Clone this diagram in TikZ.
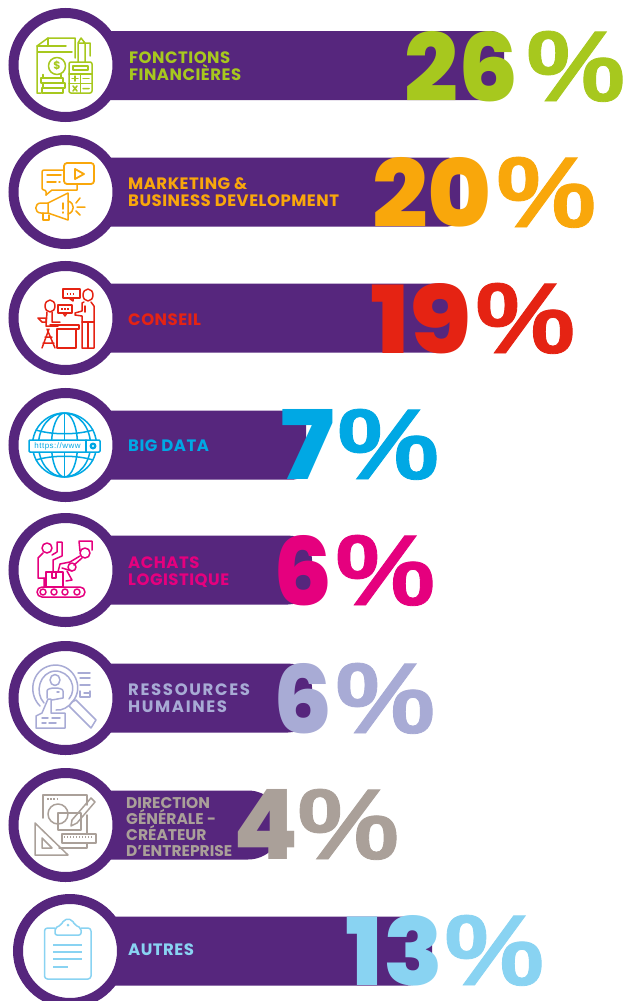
\documentclass[tikz,border=0pt]{standalone}
\usepackage{fontspec}
\usepackage{graphicx}
\setmainfont{Poppins}[UprightFont=* Bold]
\newfontfamily\numfont{Poppins}[UprightFont=* ExtraBold]
\newfontfamily\pctfont{Liberation Sans}[UprightFont=* Bold,FakeBold=0.8]
\newfontfamily\urlfont{Liberation Sans}
\definecolor{barc}{HTML}{56267D}
\definecolor{cgreen}{HTML}{A7C81E}
\definecolor{corange}{HTML}{F9A70B}
\definecolor{cred}{HTML}{E52313}
\definecolor{cblue}{HTML}{00A8E4}
\definecolor{cpink}{HTML}{E5007E}
\definecolor{clav}{HTML}{A8ABD5}
\definecolor{cgrey}{HTML}{AAA099}
\definecolor{csky}{HTML}{89D3F2}
\tikzset{
  ringnode/.style={circle,draw=barc,line width=10pt,fill=white,minimum size=104pt,inner sep=0pt,outer sep=0pt},
  labelnode/.style={anchor=west,align=left,inner sep=0pt,font=\fontsize{16.5}{17}\selectfont\addfontfeatures{LetterSpace=3}},
  fignode/.style={anchor=south west,inner sep=0pt},
  iconline/.style={line width=1.5pt,line join=round,line cap=round},
  thick stroke/.style={line width=2.6pt,line cap=butt},
}
\newcommand{\barrow}[4]{% name, y, xend, radius
  \fill[barc,rounded corners=#4pt] (66,#2-34.5) rectangle (#3,#2+34.5);
}
\newcommand{\fig}[7]{% digits colour x1 w1 x2 w2 ybase
  \node[fignode,text=#2] (d#1) at (#3,#7) {\resizebox{#4pt}{70pt}{\numfont #1}};
  \node[fignode,text=#2] (p#1) at (#5,#7) {\resizebox{#6pt}{70pt}{\pctfont\%}};
}
\begin{document}
\begin{tikzpicture}[x=1pt,y=-1pt]
\useasboundingbox (0,0) rectangle (625,1001);
\fill[white] (0,0) rectangle (625,1001);
% bars
\barrow{b1}{65.5}{504}{12}
\barrow{b2}{192}{460}{12}
\barrow{b3}{318}{456}{14}
\barrow{b4}{445}{306}{12}
\barrow{b5}{570}{312}{24}
\barrow{b6}{698}{312}{24}
\barrow{b7}{825}{282}{34}
\barrow{b8}{951}{432}{24}
% rings
\node[ringnode] (r1) at (65.5,65) {};
\node[ringnode] (r2) at (65.5,192) {};
\node[ringnode] (r3) at (65.5,318) {};
\node[ringnode] (r4) at (65.5,445) {};
\node[ringnode] (r5) at (65.5,570) {};
\node[ringnode] (r6) at (65.5,698) {};
\node[ringnode] (r7) at (65.5,825) {};
\node[ringnode] (r8) at (70,951) {};
% labels
\node[labelnode,text=cgreen] (l1) at (129,66) {FONCTIONS\\FINANCIÈRES};
\node[labelnode,text=corange] (l2) at (128,192) {MARKETING \&\\BUSINESS DEVELOPMENT};
\node[labelnode,text=cred] (l3) at (128,320) {CONSEIL};
\node[labelnode,text=cblue] (l4) at (128,446) {BIG DATA};
\node[labelnode,text=cpink] (l5) at (128,572) {ACHATS\\LOGISTIQUE};
\node[labelnode,text=clav,font=\fontsize{16.5}{17}\selectfont\addfontfeatures{LetterSpace=10}] (l6) at (128,698) {RESSOURCES\\HUMAINES};
\node[labelnode,text=cgrey,font=\fontsize{15.5}{16}\selectfont\addfontfeatures{LetterSpace=0}] (l7) at (126,827) {DIRECTION\\GÉNÉRALE -\\CRÉATEUR\\D’ENTREPRISE};
\node[labelnode,text=csky] (l8) at (128,950) {AUTRES};
% figures
\fig{26}{cgreen}{404}{114}{526}{99}{102}
\fig{20}{corange}{372}{120}{496}{100}{228}
\fig{19}{cred}{370}{102}{475}{100}{354}
\fig{7}{cblue}{280}{54}{337}{102}{480}
\node[fignode,text=cpink] (d6a) at (273,606) {\resizebox{59pt}{70pt}{\numfont 6}};
\node[fignode,text=cpink] (p6a) at (335,606) {\resizebox{100pt}{70pt}{\pctfont\%}};
\node[fignode,text=clav] (d6b) at (273,734) {\resizebox{59pt}{70pt}{\numfont 6}};
\node[fignode,text=clav] (p6b) at (335,734) {\resizebox{100pt}{70pt}{\pctfont\%}};
\fig{4}{cgrey}{233}{65}{297}{102}{860}
\fig{13}{csky}{345}{98}{444}{100}{986}
% icon 1
\begin{scope}[iconline,draw=cgreen]
\draw (75,58) -- (75,38) -- (48,38) -- (37,46) -- (37,93) -- (41,93);
\draw (48,38) -- (48,46) -- (37,46);
\draw (45,46) -- (66,46) (38,52) -- (72,52);
\draw (57,66) circle (8.5);
\node[text=cgreen,inner sep=0pt,font=\fontsize{11}{11}\selectfont] (dollar) at (57,66) {\$};
\draw (41,78) rectangle (63,83) (43,74.5) -- (43,78) (61,74.5)--(61,78) (43,83) rectangle (65,88) (42,88) rectangle (63,93);
\draw[rounded corners=2pt] (69,62) rectangle (92,93);
\draw (73,66) rectangle (88,70);
\draw (69,74) -- (92,74) (69,83.5) -- (92,83.5) (80.5,74) -- (80.5,93);
\draw (72,78.5) -- (78,78.5) (75,76) -- (75,81) (83,78.5) -- (89,78.5);
\draw (73,86) -- (77,91) (77,86) -- (73,91) (83,88.5) -- (89,88.5);
\draw (78,62) -- (78,43) -- (81,38) -- (85,43) -- (85,62) (78,43) -- (85,43) (85,43) -- (90,43) -- (90,56);
\end{scope}
% icon 2
\begin{scope}[iconline,draw=corange]
\draw[rounded corners=2pt] (64,170) -- (42,170) -- (42,190) -- (46,190) -- (46,195);
\draw (46,195) -- (52,190) -- (64,190) (77,184) -- (77,190) -- (64,190);
\draw (47,175) -- (61,175) (47,182) -- (56,182) (59,182) -- (60,182);
\draw[rounded corners=3pt,line width=1.8pt] (64,163) rectangle (94,184);
\draw[line width=1.8pt] (75,169) -- (84,174) -- (75,179) -- cycle;
\draw (68,193) -- (48,203) -- (48,213) -- (68,220) -- cycle;
\draw (48,203) -- (41,203) .. controls (34,203) and (34,213) .. (41,213) -- (48,213);
\draw (43,213) -- (43,220) -- (49,220) -- (49,215);
\draw (68,201) .. controls (75,203) and (75,212) .. (68,214);
\draw (76,203) -- (80,198) (77,207) -- (85,207) (76,211) -- (80,215);
\draw (63,203) -- (63,209) (63,212) -- (63,213);
\end{scope}
% icon 3
\begin{scope}[iconline,draw=cred]
\draw (63,289) rectangle (80,298);
\draw (69,298) -- (73,301) -- (73,298);
\draw[line width=1.8pt,line cap=butt,dash pattern=on 1.8pt off 1.2pt] (66.5,294) -- (75,294);
\draw (58,305) rectangle (72,313);
\draw (63,313) -- (65,316) -- (67,313);
\draw[line width=1.8pt,line cap=butt,dash pattern=on 1.8pt off 1.2pt] (61,309) -- (69,309);
\draw (88,295) ellipse (5 and 6);
\draw (84,302) -- (82,303) -- (82,311) -- (75,313) -- (75,315) -- (82,316) -- (82,348) -- (94,348) -- (94,306) -- (91,302);
\draw (88,322) -- (88,348) (82,322) -- (94,322) (85,306) -- (85,312);
\draw (50,306) ellipse (5 and 6);
\draw (47,312) -- (46,326) -- (58,326) (52,312) -- (52,322) -- (60,322);
\draw (38,318) -- (46,318) -- (46,322) -- (42,322) -- (38,318);
\draw (57,329) rectangle (76,348) (50,325) -- (79,325) -- (79,329) -- (57,329);
\draw (49,329) -- (42,348) (47,329) -- (55,348) (45,337) -- (52,337) (43,343) -- (54,343);
\end{scope}
% icon 4
\begin{scope}[iconline,draw=cblue]
\draw (64.5,445) circle (32);
\draw (64.5,445) ellipse (13 and 32) (64.5,445) ellipse (26 and 32);
\draw (64.5,413) -- (64.5,477);
\draw (36,430) .. controls (52,435) and (77,435) .. (93,430);
\draw (36,460) .. controls (52,455) and (77,455) .. (93,460);
\fill[white] (28,440) rectangle (101,452);
\draw[rounded corners=1pt,fill=white,line width=1.5pt] (29,440) rectangle (100,452);
\draw[line width=1.5pt] (86,440) -- (86,452);
\node[text=cblue,inner sep=0pt,font=\urlfont\fontsize{8}{8}\selectfont\addfontfeatures{LetterSpace=6}] (www) at (57.5,446) {https://www};
\fill[cblue] (93,446) circle (3.5);
\fill[white] (93,446) circle (1.2);
\end{scope}
% icon 5
\begin{scope}[iconline,draw=cpink]
\draw[rounded corners=5pt] (37,587) rectangle (85,597);
\draw (43,592) circle (3) (54,592) circle (3) (65,592) circle (3) (77,592) circle (3);
\draw (47,548) circle (5);
\draw (43,553) -- (38,558) -- (38,578) -- (45,578);
\draw (44,578) -- (44,587) (52,555) -- (57,552) -- (57,542) -- (62,542) -- (62,556) -- (53,560) -- (53,572);
\draw (46,572) rectangle (63,587);
\draw (52,572) -- (52,578) -- (56,578) -- (56,572);
\draw (85,553) circle (5) (72,567) circle (4);
\draw (79,541) -- (92,541) -- (92,550) (79,541) -- (80,551);
\draw (80,556) -- (70,562) (82,558) -- (74,565);
\draw (70,562) -- (60,564) -- (58,572) (72,571) -- (62,568);
\draw (67,571) -- (72,580) -- (66,581);
\end{scope}
% icon 6
\begin{scope}[iconline,draw=clav]
\draw (40,706) .. controls (26,692) and (33,666) .. (55,665) .. controls (75,665) and (84,688) .. (73,701) .. controls (69,707) and (62,711) .. (56,710);
\draw (44,703) .. controls (34,692) and (40,672) .. (55,671) .. controls (70,671) and (78,688) .. (69,699);
\draw (55,680) ellipse (5 and 5.5);
\draw (47,698) -- (47,691) .. controls (47,687) and (63,687) .. (63,691) -- (63,698) -- (52,700);
\draw (57,692) -- (59,692);
\draw (78,673) -- (90,673) (80,678) -- (90,678) (80,685) -- (90,685) (84,693) -- (90,693) (80,697) -- (90,697) -- (90,691) (80,697) -- (80,691);
\draw (72,702) -- (76,700) -- (96,720) -- (91,728) -- (69,706) -- cycle;
\draw (36,728) -- (36,716) -- (42,713) -- (48,699) -- (51,699) -- (51,713) -- (65,713) -- (65,728) -- cycle;
\draw (42,718) -- (48,718) (52,718) -- (60,718) (42,723) -- (46,723) (49,723) -- (56,723);
\end{scope}
% icon 7
\begin{scope}[iconline,draw=cgrey]
\draw (43,818) -- (43,795) -- (87,795) -- (87,805);
\draw[line width=1.8pt,line cap=butt,dash pattern=on 2pt off 1.2pt] (47,799) -- (58,799);
\draw (58,814) circle (10);
\draw (58,813) rectangle (81,830);
\draw (87,815) -- (87,834) (87,843) -- (87,848) -- (59,848);
\draw (72,820) -- (91,798) -- (95,802) -- (77,823) -- (71,826) -- cycle;
\draw (35,823) -- (35,855) -- (68,855) -- cycle;
\draw (42,838) -- (42,848) -- (52,848) -- cycle;
\draw (62,834) rectangle (96,843);
\draw[dash pattern=on 1pt off 2pt,line cap=butt] (64,837) -- (94,837);
\end{scope}
% icon 8
\begin{scope}[iconline,draw=csky]
\draw[rounded corners=3pt,line width=1.5pt] (55,928) -- (44.5,928) -- (44.5,979) -- (91,979) -- (91,928) -- (81,928);
\draw[line width=1.5pt,rounded corners=2pt] (55,935) -- (55,928) -- (61,925) -- (64,920) -- (68,919) -- (72,920) -- (75,925) -- (81,928) -- (81,935) -- cycle;
\fill[csky] (68,925) circle (1.5);
\draw[thick stroke] (53,945) -- (82,945) (53,952) -- (82,952) (53,959) -- (82,959) (53,967) -- (68,967);
\end{scope}
\end{tikzpicture}
\end{document}
